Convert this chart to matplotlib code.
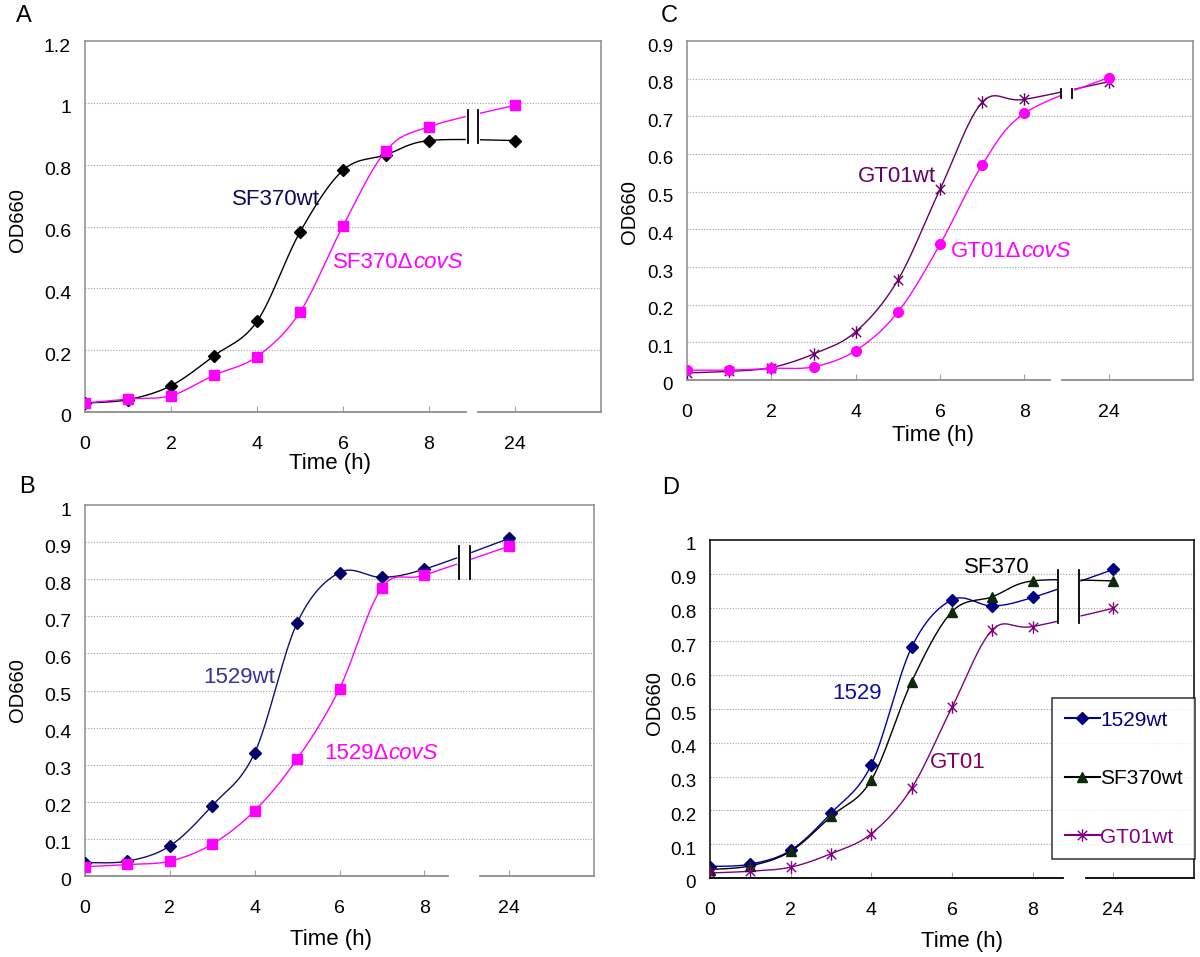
import numpy as np
import matplotlib
matplotlib.use("Agg")
import matplotlib.pyplot as plt
from matplotlib.path import Path
from matplotlib.lines import Line2D
from matplotlib.transforms import ScaledTranslation

plt.rcParams['font.family'] = ['Liberation Sans', 'DejaVu Sans']

# ---------------- data ----------------
hours = [0, 1, 2, 3, 4, 5, 6, 7, 8, 24]
tick_hours = [0, 2, 4, 6, 8, 24]

A_wt = [0.029, 0.040, 0.085, 0.182, 0.293, 0.582, 0.782, 0.832, 0.878, 0.878]
A_cov = [0.029, 0.042, 0.053, 0.119, 0.179, 0.323, 0.602, 0.845, 0.923, 0.992]
B_wt = [0.036, 0.040, 0.081, 0.190, 0.332, 0.682, 0.818, 0.805, 0.827, 0.910]
B_cov = [0.025, 0.031, 0.040, 0.086, 0.176, 0.315, 0.505, 0.777, 0.811, 0.889]
C_wt = [0.019, 0.023, 0.033, 0.069, 0.128, 0.265, 0.506, 0.737, 0.745, 0.792]
C_cov = [0.026, 0.026, 0.031, 0.035, 0.078, 0.180, 0.360, 0.571, 0.708, 0.803]
D_1529 = [0.034, 0.041, 0.082, 0.192, 0.335, 0.683, 0.823, 0.805, 0.830, 0.913]
D_SF370 = [0.025, 0.036, 0.079, 0.182, 0.290, 0.581, 0.788, 0.832, 0.879, 0.879]
D_GT01 = [0.015, 0.020, 0.032, 0.072, 0.131, 0.266, 0.505, 0.734, 0.744, 0.798]

# category positions (24 h placed after the axis break)
def pos_of(h):
    return h if h <= 8 else 10
xpos = np.array([pos_of(h) for h in hours], dtype=float)
tick_pos = [pos_of(h) for h in tick_hours]

W, H = 1200, 957
fig = plt.figure(figsize=(W / 100, H / 100), dpi=100)


def rect(l, t, r, b):
    return [l / W, 1 - b / H, (r - l) / W, (b - t) / H]


def fx(x):
    return x / W


def fy(y):
    return 1 - y / H


def smooth(x, y, n=30):
    P = np.column_stack([x, y]).astype(float)
    m = len(P)
    out = [P[0]]
    for i in range(m - 1):
        p0 = P[i - 1] if i > 0 else P[i]
        p1 = P[i]
        p2 = P[i + 1]
        p3 = P[i + 2] if i + 2 < m else P[i + 1]
        b1 = p1 + (p2 - p0) / 6.0
        b2 = p2 - (p3 - p1) / 6.0
        t = np.linspace(0, 1, n)[1:, None]
        seg = ((1 - t) ** 3) * p1 + 3 * ((1 - t) ** 2) * t * b1 + 3 * (1 - t) * t ** 2 * b2 + t ** 3 * p2
        out.extend(seg)
    out = np.array(out)
    return out[:, 0], out[:, 1]


star = Path([(0, -1), (0, 1), (-0.75, -0.75), (0.75, 0.75), (-0.75, 0.75), (0.75, -0.75)],
            [Path.MOVETO, Path.LINETO] * 3)


def draw_series(ax, y, color, marker, mfc, mec, ms, brk, lw=1.0, mew=1.0):
    xs, ys = smooth(xpos, y)
    ys = ys.copy()
    ys[(xs > brk[0]) & (xs < brk[1])] = np.nan
    ax.plot(xs, ys, color=color, lw=lw, zorder=3, solid_capstyle='butt')
    ax.plot(xpos, y, linestyle='none', marker=marker, ms=ms, mfc=mfc, mec=mec,
            mew=mew, zorder=4)


def setup(ax, ymax, ystep, frame, gap, fs_tick):
    ax.set_xlim(0, 12)
    ax.set_ylim(0, ymax)
    yt = np.round(np.arange(0, ymax + 1e-9, ystep), 2)
    ax.set_yticks(yt)
    ax.set_yticklabels([('%g' % v) for v in yt], fontsize=fs_tick)
    ax.set_xticks(tick_pos)
    ax.set_xticklabels([str(h) for h in tick_hours], fontsize=14)
    for v in yt[1:-1]:
        ax.axhline(v, color='#a0a0a0', lw=0.8, ls=(0, (1, 1.5)), zorder=1)
    for s in ['top', 'left', 'right']:
        ax.spines[s].set_color(frame)
        ax.spines[s].set_linewidth(1.1)
    ax.spines['bottom'].set_visible(False)
    tr = ax.get_xaxis_transform()
    ax.plot([0, gap[0]], [0, 0], color=frame, lw=1.3, transform=tr, clip_on=False, zorder=5)
    ax.plot([gap[1], 12], [0, 0], color=frame, lw=1.3, transform=tr, clip_on=False, zorder=5)
    ax.tick_params(axis='y', length=0, pad=10)
    ax.tick_params(axis='x', direction='in', length=4, color='#a0a0a0', pad=17)
    off = ScaledTranslation(0, -4 / 100, fig.dpi_scale_trans)
    for lab in ax.get_yticklabels():
        lab.set_transform(lab.get_transform() + off)


def break_marks(ax, xs, y0, y1, color='black'):
    for x in xs:
        ax.plot([x, x], [y0, y1], color=color, lw=1.3, zorder=6)


MAG = '#ff00ff'

# ---------------- Panel A ----------------
axA = fig.add_axes(rect(85, 41, 601, 412))
setup(axA, 1.2, 0.2, '#8c8c8c', (8.86, 9.14), 14)
draw_series(axA, A_wt, 'black', 'D', 'black', 'black', 6.5, (8.9, 9.15))
draw_series(axA, A_cov, MAG, 's', MAG, MAG, 6.5, (8.9, 9.15))
break_marks(axA, [8.9, 9.15], 0.87, 0.977)
axA.text(4.45, 0.686, 'SF370wt', color='#0a0a5a', fontsize=16, ha='center', va='center', zorder=7)
tA = axA.text(5.77, 0.482, 'SF370\u0394', color=MAG, fontsize=16, ha='left', va='center', zorder=7)
axA.annotate('covS', xy=(1, 0), xycoords=tA, ha='left', va='bottom', color=MAG,
             fontsize=16, fontstyle='italic', zorder=7)

# ---------------- Panel C ----------------
axC = fig.add_axes(rect(687, 41, 1193, 380))
setup(axC, 0.9, 0.1, '#8c8c8c', (8.62, 8.9), 13.5)
draw_series(axC, C_wt, '#660066', star, 'none', '#660066', 9, (8.86, 9.14))
draw_series(axC, C_cov, MAG, 'o', MAG, MAG, 7, (8.86, 9.14))
break_marks(axC, [8.86, 9.14], 0.748, 0.772)
axC.text(4.97, 0.539, 'GT01wt', color='#660066', fontsize=16, ha='center', va='center', zorder=7)
tC = axC.text(6.25, 0.34, 'GT01\u0394', color=MAG, fontsize=16, ha='left', va='center', zorder=7)
axC.annotate('covS', xy=(1, 0), xycoords=tC, ha='left', va='bottom', color=MAG,
             fontsize=16, fontstyle='italic', zorder=7)

# ---------------- Panel B ----------------
axB = fig.add_axes(rect(85, 505, 594, 876))
setup(axB, 1.0, 0.1, '#8c8c8c', (8.56, 9.32), 14)
draw_series(axB, B_wt, '#10106e', 'D', '#000066', '#000066', 6.5, (8.82, 9.08))
draw_series(axB, B_cov, MAG, 's', MAG, MAG, 6.5, (8.82, 9.08))
break_marks(axB, [8.82, 9.08], 0.80, 0.89)
axB.text(3.63, 0.536, '1529wt', color='#333399', fontsize=16, ha='center', va='center', zorder=7)
tB = axB.text(5.63, 0.331, '1529\u0394', color=MAG, fontsize=16, ha='left', va='center', zorder=7)
axB.annotate('covS', xy=(1, 0), xycoords=tB, ha='left', va='bottom', color=MAG,
             fontsize=16, fontstyle='italic', zorder=7)

# ---------------- Panel D ----------------
axD = fig.add_axes(rect(710, 540, 1194, 878))
setup(axD, 1.0, 0.1, 'black', (8.76, 9.33), 13.5)
c1529 = '#0000a0'
cSF = 'black'
cGT = '#800080'
draw_series(axD, D_1529, c1529, 'D', '#000080', '#000080', 6.5, (8.63, 9.15))
draw_series(axD, D_SF370, cSF, '^', '#0b2b0b', '#0b2b0b', 7, (8.63, 9.15))
draw_series(axD, D_GT01, cGT, star, 'none', cGT, 9, (8.63, 9.15))
break_marks(axD, [8.63, 9.15], 0.754, 0.91)
axD.text(7.11, 0.92, 'SF370', color='black', fontsize=16, ha='center', va='center', zorder=7)
axD.text(3.65, 0.547, '1529', color='#1010a0', fontsize=16, ha='center', va='center', zorder=7)
axD.text(6.15, 0.343, 'GT01', color='#800060', fontsize=16, ha='center', va='center', zorder=7)

handles = [
    Line2D([], [], color=c1529, marker='D', ms=6.5, mfc='#000080', mec='#000080'),
    Line2D([], [], color=cSF, marker='^', ms=7, mfc='#0b2b0b', mec='#0b2b0b'),
    Line2D([], [], color=cGT, marker=star, ms=9, mfc='none', mec=cGT),
]
leg = axD.legend(handles, ['1529wt', 'SF370wt', 'GT01wt'], loc='upper left',
                 bbox_to_anchor=(fx(1052), fy(698)), bbox_transform=fig.transFigure,
                 borderaxespad=0, fontsize=15, frameon=True, fancybox=False,
                 handlelength=1.7, handletextpad=0.0, labelspacing=1.9, borderpad=0.6)
leg.get_frame().set_edgecolor('black')
leg.get_frame().set_linewidth(1.1)
leg.set_zorder(10)
for txt, col in zip(leg.get_texts(), ['#000080', 'black', '#800080']):
    txt.set_color(col)

# ---------------- axis titles & panel letters ----------------
for (x, y) in [(330, 463), (933, 435), (331, 940), (962, 942)]:
    fig.text(fx(x), fy(y), 'Time (h)', fontsize=16, ha='center', va='center')
for (x, y) in [(17, 220), (629, 212), (17, 690), (655, 703)]:
    fig.text(fx(x), fy(y), 'OD660', fontsize=14.5, ha='center', va='center', rotation=90)
for (x, y, s) in [(24, 16, 'A'), (669, 16, 'C'), (27, 487, 'B'), (671, 488, 'D')]:
    fig.text(fx(x), fy(y), s, fontsize=17, ha='center', va='center')

fig.savefig('out.png', dpi=100)
